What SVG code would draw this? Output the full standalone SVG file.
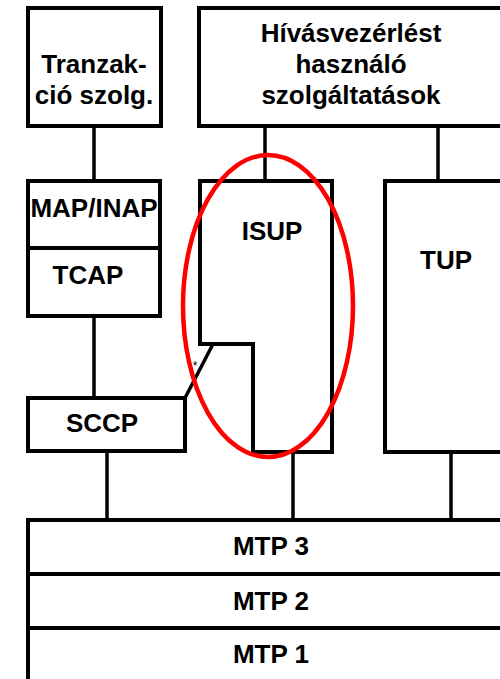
<svg xmlns="http://www.w3.org/2000/svg" width="500" height="679" viewBox="0 0 500 679">
<style>
.box{fill:#fff;stroke:#000;stroke-width:4}
.ln{stroke:#000;stroke-width:3.5;fill:none}
.t{font-family:"Liberation Sans",Arial,sans-serif;font-weight:bold;font-size:26px;fill:#000;text-anchor:middle}
</style>
<rect width="500" height="679" fill="#fff"/>
<g id="connectors">
<line class="ln" x1="94" y1="126" x2="94" y2="181"/>
<line class="ln" x1="265" y1="126" x2="265" y2="181"/>
<line class="ln" x1="438" y1="126" x2="438" y2="181"/>
<line class="ln" x1="94" y1="316" x2="94" y2="398"/>
<line class="ln" x1="213" y1="344" x2="185" y2="398"/>
<line class="ln" x1="107" y1="451" x2="107" y2="520"/>
<line class="ln" x1="293" y1="452" x2="293" y2="520"/>
<line class="ln" x1="451" y1="452" x2="451" y2="520"/>
</g>
<g id="tranzakcio">
<rect class="box" x="28" y="8" width="133" height="118"/>
<text class="t" x="94" y="73">Tranzak-</text>
<text class="t" x="94" y="104">ció szolg.</text>
</g>
<g id="hivasvezerles">
<rect class="box" x="199" y="8" width="310" height="118"/>
<text class="t" x="351" y="42">Hívásvezérlést</text>
<text class="t" x="351" y="73">használó</text>
<text class="t" x="351" y="104">szolgáltatások</text>
</g>
<g id="mapinap">
<rect class="box" x="28" y="181" width="132" height="67"/>
<text class="t" x="94" y="217">MAP/INAP</text>
</g>
<g id="tcap">
<rect class="box" x="28" y="248" width="132" height="68"/>
<text class="t" x="88" y="284">TCAP</text>
</g>
<g id="sccp">
<rect class="box" x="28" y="398" width="157" height="53"/>
<text class="t" x="102" y="432">SCCP</text>
</g>
<g id="isup">
<polygon class="box" points="200,181 332,181 332,452 253,452 253,344 200,344"/>
<text class="t" x="272" y="240">ISUP</text>
</g>
<g id="tup">
<rect class="box" x="385" y="181" width="130" height="271"/>
<text class="t" x="446" y="269">TUP</text>
</g>
<g id="mtp3">
<rect class="box" x="28" y="520" width="490" height="54"/>
<text class="t" x="271" y="555">MTP 3</text>
</g>
<g id="mtp2">
<rect class="box" x="28" y="574" width="490" height="54"/>
<text class="t" x="271" y="610">MTP 2</text>
</g>
<g id="mtp1">
<rect class="box" x="28" y="628" width="490" height="70"/>
<text class="t" x="271" y="663">MTP 1</text>
</g>
<text x="195" y="370" style="font-family:'Liberation Sans',Arial,sans-serif;font-size:12px;text-anchor:middle">*</text>
<ellipse id="highlight" cx="268" cy="306" rx="85" ry="151" fill="none" stroke="#f00" stroke-width="4.5"/>
</svg>
